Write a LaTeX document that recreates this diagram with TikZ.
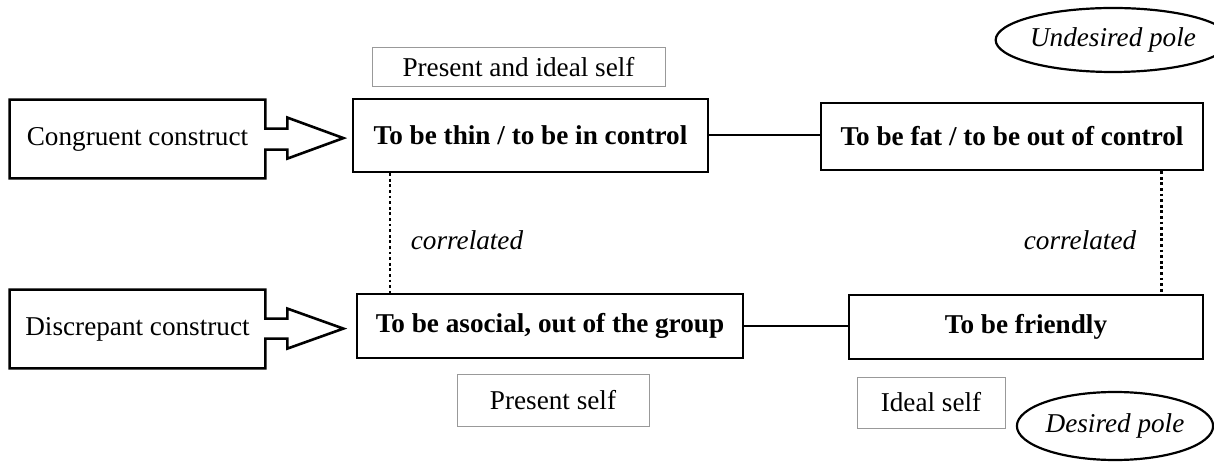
\documentclass[tikz,border=0pt]{standalone}
\usepackage{fontspec}
\setmainfont{Liberation Serif}
\usetikzlibrary{positioning,shapes.geometric}

\begin{document}
\begin{tikzpicture}[
    x=0.5pt, y=-0.5pt,
    font=\fontsize{13.6}{16}\selectfont,
    box/.style={
        rectangle,
        draw=black,
        line width=1.3pt,
        font=\fontsize{13.6}{16}\selectfont\bfseries,
        inner sep=0pt
    },
    selfbox/.style={
        rectangle,
        draw=gray!80,
        line width=0.5pt,
        inner sep=0pt
    },
    pole/.style={
        ellipse,
        draw=black,
        line width=1.1pt,
        font=\fontsize{13.6}{16}\selectfont\itshape,
        inner sep=0pt
    },
    construct/.style={line width=1.3pt, line join=miter},
    link/.style={line width=1pt},
    corr/.style={line width=1.2pt, dash pattern=on 1.4pt off 1.4pt}
]
\useasboundingbox (0,0) rectangle (1214,464);

% Nodes
\node[minimum width=127.5pt, minimum height=39pt] (cong) at (137.5,139) {Congruent construct};
\node[minimum width=127.5pt, minimum height=39pt] (disc) at (137.5,329) {Discrepant construct};

\node[box, minimum width=177.5pt, minimum height=36.5pt] (thin) at (530.5,135.5) {To be thin / to be in control};
\node[box, minimum width=191pt, minimum height=33.5pt] (fat) at (1012,136.5) {To be fat / to be out of control};
\node[box, minimum width=193pt, minimum height=32pt] (asoc) at (550,326) {To be asocial, out of the group};
\node[box, minimum width=177pt, minimum height=32pt] (friend) at (1026,327) {To be friendly};

\node[selfbox, minimum width=146.5pt, minimum height=19.5pt] (pis) at (518.5,67.5) {Present and ideal self};
\node[selfbox, minimum width=96pt, minimum height=26pt] (ps) at (553,400) {Present self};
\node[selfbox, minimum width=74pt, minimum height=25.5pt] (ideal) at (931,402.5) {Ideal self};

\node[pole, minimum width=98pt, minimum height=32pt] (undes) at (1113,40) {Undesired pole};
\node[pole, minimum width=92pt, minimum height=34pt] (des) at (1115,426) {Desired pole};

\node[font=\fontsize{13.6}{16}\selectfont\itshape] (corrl) at (467,240) {correlated};
\node[font=\fontsize{13.6}{16}\selectfont\itshape] (corrr) at (1080,240) {correlated};

% Construct outlines
\draw[construct] (cong.north west) -- (cong.north east) -- ++(0,29) -- ++(22,0) -- ++(0,-11)
    -- ++(56,20.5) -- ++(-56,20.5) -- ++(0,-9) -- ++(-22,0) -- (cong.south east)
    -- (cong.south west) -- cycle;
\draw[construct] (disc.north west) -- (disc.north east) -- ++(0,29) -- ++(22,0) -- ++(0,-10)
    -- ++(56,20) -- ++(-56,20) -- ++(0,-10) -- ++(-22,0) -- (disc.south east)
    -- (disc.south west) -- cycle;

% Links
\draw[link] (thin.east) -- (fat.west |- thin.east);
\draw[link] (asoc.east) -- (friend.west |- asoc.east);
\draw[corr] ([xshift=19pt]thin.south west) -- ([xshift=19pt]thin.south west |- asoc.north);
\draw[corr] ([xshift=-21.5pt]fat.south east) -- ([xshift=-21.5pt]fat.south east |- friend.north);

\end{tikzpicture}
\end{document}
